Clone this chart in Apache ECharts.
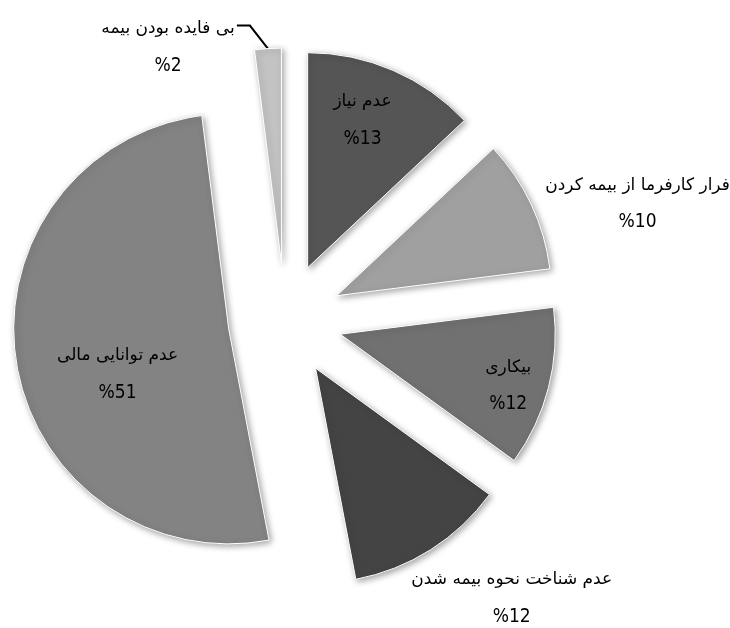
<!DOCTYPE html>
<html>
<head>
<meta charset="utf-8">
<script src="https://cdn.jsdelivr.net/npm/echarts@6/dist/echarts.min.js"></script>
<style>
  html, body { margin: 0; padding: 0; background: #fff; }
  #main { width: 730px; height: 628px; }
</style>
</head>
<body>
<div id="main"></div>
<script>
// دلایل عدم بیمه - داده ها به ترتیب ساعتگرد از بالا
const names = ['عدم نیاز', 'فرار کارفرما از بیمه کردن', 'بیکاری', 'عدم شناخت نحوه بیمه شدن', 'عدم توانایی مالی', 'بی فایده بودن بیمه'];
const values = [13, 10, 12, 12, 51, 2];
const colors = ['#555555', '#a0a0a0', '#717171', '#444444', '#838383', '#c3c3c3'];

// label shift (px) from the default position
const labelShift = [[11, -46], [201, -45], [61, 24], [137, 137], [-2, 28], [-5, 19]];

var myChart = echarts.init(document.getElementById('main'));

const data = names.map((n, i) => {
  const item = {
    name: n,
    value: values[i],
    selected: true,
    itemStyle: { color: colors[i] },
    select: { itemStyle: { color: colors[i] } }
  };
  if (i === 5) {
    // small slice: outside label with leader line
    item.label = { position: 'outside' };
    item.labelLine = { show: true, length: 20, length2: 22, lineStyle: { color: '#000', width: 2 } };
  } else {
    item.label = { position: 'inside' };
  }
  return item;
});

const option = {
  backgroundColor: '#fff',
  animation: false,
  series: [{
    type: 'pie',
    center: [285, 320],
    radius: 215,
    startAngle: 90,
    clockwise: true,
    selectedMode: 'multiple',
    selectedOffset: 57,
    avoidLabelOverlap: false,
    emphasis: { disabled: true },
    itemStyle: {
      borderColor: '#fff',
      borderWidth: 1,
      shadowBlur: 6,
      shadowColor: 'rgba(0,0,0,0.35)',
      shadowOffsetX: 2,
      shadowOffsetY: 2
    },
    label: {
      show: true,
      color: '#000',
      formatter: p => '{n|' + p.name + '}\n{p|%' + p.value + '}',
      rich: {
        n: { fontFamily: 'DejaVu Sans', fontSize: 17, color: '#000', lineHeight: 37, align: 'center' },
        p: { fontFamily: 'DejaVu Sans Condensed, Liberation Sans Narrow, sans-serif', fontSize: 19, color: '#000', lineHeight: 37, align: 'center' }
      }
    },
    labelLayout: p => {
      const res = { dx: labelShift[p.dataIndex][0], dy: labelShift[p.dataIndex][1] };
      if (p.labelLinePoints) {
        // leader line: from slice edge, diagonal up-left, then short horizontal
        const p0 = p.labelLinePoints[0];
        const p1 = [p0[0] - 18, p0[1] - 23];
        const p2 = [p1[0] - 13, p1[1]];
        res.labelLinePoints = [p0, p1, p2];
      }
      return res;
    },
    data: data
  }]
};

myChart.setOption(option);
</script>
</body>
</html>
